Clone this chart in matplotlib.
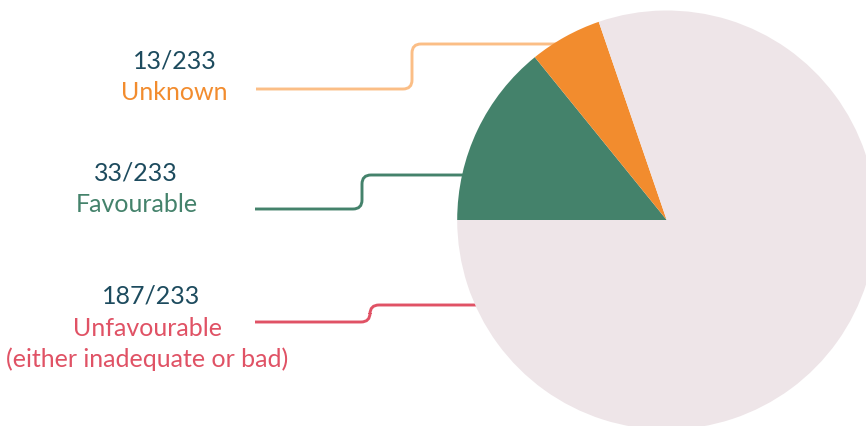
import matplotlib
matplotlib.use('Agg')
import matplotlib.pyplot as plt
from matplotlib.path import Path
from matplotlib.patches import PathPatch

plt.rcParams['font.family'] = ['Lato', 'DejaVu Sans']

categories = ['Favourable', 'Unknown', 'Unfavourable']
counts = [33, 13, 187]
total = 233
slice_colors = ['#44826B', '#F28C2E', '#EEE5E8']
label_colors = ['#44826B', '#F28C2E', '#E05265']
line_colors = ['#44826B', '#FBBE86', '#E05265']
label_texts = ['Favourable', 'Unknown', 'Unfavourable\n(either inadequate or bad)']
NUM_COLOR = '#1D4B5E'

W, H = 866, 427
fig = plt.figure(figsize=(W / 100, H / 100), dpi=100)
ax = fig.add_axes([0, 0, 1, 1])

cx, cy, r = 666.7, H - 221, 209.5
ax.pie(counts, colors=slice_colors, startangle=180, counterclock=False,
       center=(cx, cy), radius=r, frame=True,
       wedgeprops={'linewidth': 0, 'zorder': 3})
ax.set_xlim(0, W)
ax.set_ylim(0, H)
ax.axis('off')


def leader(x0, y0, xk, y1, x1, color, rad=9):
    # horizontal, rounded step up, horizontal into the pie
    up = 1 if y1 > y0 else -1
    verts = [(x0, y0), (xk - rad, y0), (xk, y0), (xk, y0 + up * rad),
             (xk, y1 - up * rad), (xk, y1), (xk + rad, y1), (x1, y1)]
    codes = [Path.MOVETO, Path.LINETO, Path.CURVE3, Path.CURVE3,
             Path.LINETO, Path.CURVE3, Path.CURVE3, Path.LINETO]
    ax.add_patch(PathPatch(Path(verts, codes), fill=False, edgecolor=color,
                           linewidth=2.1, capstyle='butt', zorder=2))


# label layout (pixel coords from top)
lines_px = {
    'Unknown': (256, 90, 412, 45, 600),
    'Favourable': (255, 210, 362, 176, 520),
    'Unfavourable': (255, 323, 370, 306, 520),
}
text_px = {
    'Unknown': (175, 61, 174, 93),
    'Favourable': (136, 173, 137, 205),
    'Unfavourable': (151, 296, 147, 344),
}

for cat, n, lc, lnc, lt in zip(categories, counts, label_colors, line_colors, label_texts):
    x0, y0, xk, y1, x1 = lines_px[cat]
    leader(x0, H - y0, xk, H - y1, x1, lnc)
    nx, ny, tx, ty = text_px[cat]
    ax.text(nx, H - ny, f'{n}/{total}', color=NUM_COLOR, fontsize=18,
            ha='center', va='center')
    ax.text(tx, H - ty, lt, color=lc, fontsize=18, ha='center', va='center',
            linespacing=1.35)

fig.savefig('out.png', dpi=100, facecolor='white')
